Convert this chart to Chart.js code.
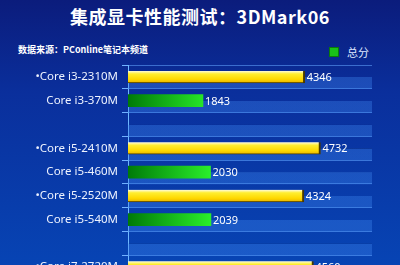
<!DOCTYPE html>
<html>
<head>
<meta charset="utf-8">
<script src="https://cdn.jsdelivr.net/npm/chart.js@4.4.1/dist/chart.umd.min.js"></script>
<style>
  html, body { margin: 0; padding: 0; }
  body {
    width: 400px; height: 265px; overflow: hidden; position: relative;
    background: linear-gradient(180deg, #0b1c7c 0%, #0a2f9c 35%, #0744b4 100%);
    font-family: "Noto Sans CJK SC", "Noto Sans", sans-serif;
  }
  #title {
    position: absolute; left: 0; top: 3px; width: 400px; text-align: center;
    color: #ffffff; font-size: 18px; font-weight: bold; letter-spacing: 0.5px;
  }
  #source {
    position: absolute; left: 18px; top: 43px; color: #ffffff;
    font-size: 9px; font-weight: bold;
  }
  #legend {
    position: absolute; left: 329px; top: 44px; color: #dfe8ff; font-size: 11px;
  }
  #legend span.box {
    display: inline-block; width: 8px; height: 8px; background: #19c019;
    border: 1px solid #0a7a0a; margin-right: 8px; vertical-align: 0px;
  }
  #wrap { position: absolute; left: 0; top: 0; width: 400px; height: 290px; }
</style>
</head>
<body>
<div id="title">集成显卡性能测试：3DMark06</div>
<div id="source">数据来源：PConline笔记本频道</div>
<div id="legend"><span class="box"></span>总分</div>
<div id="wrap"><canvas id="benchChart"></canvas></div>
<script>
// chart data
const categories = ['•Core i3-2310M', 'Core i3-370M', '', '•Core i5-2410M', 'Core i5-460M',
                    '•Core i5-2520M', 'Core i5-540M', '', '•Core i7-2720M'];
const scores = [4346, 1843, null, 4732, 2030, 4324, 2039, null, 4560];
const sandyBridge = [true, false, false, true, false, true, false, false, true];
const trackValues = [6000, 6000, 6000, 6000, 6000, 6000, 6000, 6000, 6000];
const axisMax = 6000;

// colour for each bar, yellow for the new parts, green for the old ones
function barColor(context) {
    const chart = context.chart;
    const i = context.dataIndex;
    const ctx = chart.ctx;
    if (!chart.chartArea || !chart.scales.y) {
        return sandyBridge[i] ? '#ffdc00' : '#1ccc1c';
    }
    if (sandyBridge[i]) {
        const yc = chart.scales.y.getPixelForValue(i);
        const g = ctx.createLinearGradient(0, yc - 6, 0, yc + 6);
        g.addColorStop(0, '#fffce0');
        g.addColorStop(0.25, '#ffee30');
        g.addColorStop(0.7, '#ffd800');
        g.addColorStop(1, '#e8b400');
        return g;
    }
    const left = chart.chartArea.left;
    const g = ctx.createLinearGradient(left, 0, left + 82, 0);
    g.addColorStop(0, '#007a08');
    g.addColorStop(1, '#2aee2a');
    return g;
}

// lighter band in the lower half of every row
function trackColor(context) {
    const chart = context.chart;
    if (!chart.chartArea || !chart.scales.y) return 'rgba(0,0,0,0)';
    const yc = chart.scales.y.getPixelForValue(context.dataIndex);
    const half = (chart.chartArea.bottom - chart.chartArea.top) / categories.length / 2;
    const g = chart.ctx.createLinearGradient(0, yc - half, 0, yc + half);
    g.addColorStop(0, 'rgba(0,0,0,0)');
    g.addColorStop(0.5, 'rgba(0,0,0,0)');
    g.addColorStop(0.52, 'rgba(60, 130, 235, 0.38)');
    g.addColorStop(1, 'rgba(60, 130, 235, 0.38)');
    return g;
}

// value text right of each bar
const valueLabels = {
    id: 'valueLabels',
    afterDatasetsDraw(chart) {
        const meta = chart.getDatasetMeta(0);
        const ctx = chart.ctx;
        ctx.save();
        ctx.font = '11px "Noto Sans", sans-serif';
        ctx.fillStyle = '#ffffff';
        ctx.textAlign = 'left';
        ctx.textBaseline = 'middle';
        meta.data.forEach((bar, i) => {
            if (scores[i] == null) return;
            ctx.fillText(String(scores[i]), bar.x + 2, bar.y + 1);
        });
        ctx.restore();
    }
};

const benchChart = new Chart(document.getElementById('benchChart'), {
    type: 'bar',
    data: {
        labels: categories,
        datasets: [
            {
                label: '总分',
                data: scores,
                backgroundColor: barColor,
                borderColor: (c) => sandyBridge[c.dataIndex] ? '#4a3a00' : 'rgba(0,0,0,0)',
                borderWidth: (c) => sandyBridge[c.dataIndex] ? { top: 0, left: 0, right: 2, bottom: 1 } : 0,
                borderSkipped: false,
                barThickness: 12,
                grouped: false,
                order: 1
            },
            {
                label: 'track',
                data: trackValues,
                backgroundColor: trackColor,
                barPercentage: 1,
                categoryPercentage: 1,
                grouped: false,
                order: 2
            }
        ]
    },
    options: {
        indexAxis: 'y',
        responsive: true,
        maintainAspectRatio: false,
        animation: false,
        layout: { padding: { top: 65, right: 28, bottom: 9, left: 0 } },
        plugins: {
            legend: { display: false },
            tooltip: { enabled: false }
        },
        scales: {
            x: {
                display: false,
                min: 0,
                max: axisMax
            },
            y: {
                afterFit(scale) { scale.width = 128; },
                grid: {
                    offset: true,
                    color: 'rgba(100, 165, 255, 0.55)',
                    tickColor: '#6fb0ff',
                    tickLength: 6,
                    drawOnChartArea: true
                },
                border: { display: true, color: '#6fb8ff', width: 1 },
                ticks: {
                    color: '#eef3ff',
                    padding: 4,
                    font: { family: '"Noto Sans", sans-serif', size: 11.5 }
                }
            }
        }
    },
    plugins: [valueLabels]
});
</script>
</body>
</html>
